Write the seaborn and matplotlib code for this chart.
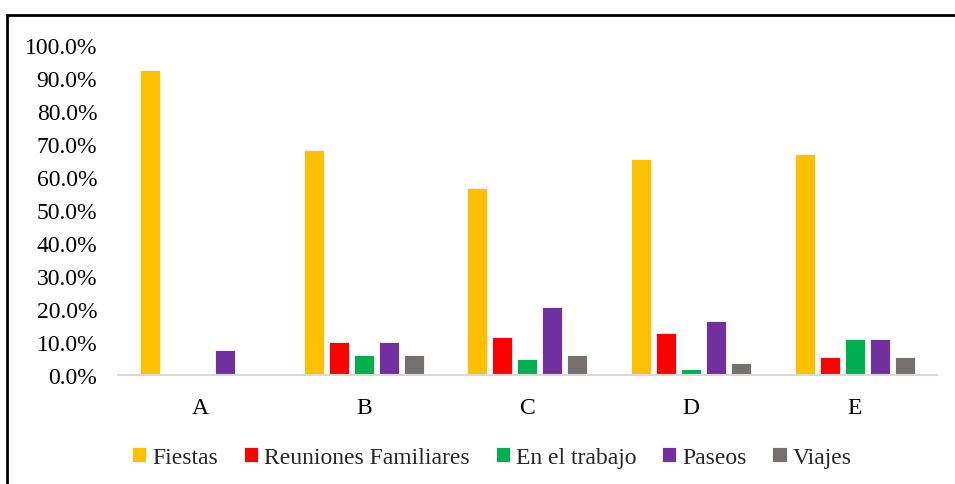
import pandas as pd
import seaborn as sns
import matplotlib.pyplot as plt
from matplotlib.patches import Rectangle
from matplotlib.ticker import PercentFormatter

# DATA
categorias = ['A', 'B', 'C', 'D', 'E']
series = ['Fiestas', 'Reuniones Familiares', 'En el trabajo', 'Paseos', 'Viajes']
fiestas = [0.923, 0.680, 0.567, 0.654, 0.668]
reuniones = [0.0, 0.099, 0.114, 0.127, 0.055]
trabajo = [0.0, 0.061, 0.050, 0.018, 0.110]
paseos = [0.076, 0.099, 0.205, 0.163, 0.110]
viajes = [0.0, 0.061, 0.062, 0.035, 0.055]
colores = ['#FFC000', '#FF0000', '#00B050', '#7030A0', '#767171']

valores = [fiestas, reuniones, trabajo, paseos, viajes]
rows = []
for s, vals in zip(series, valores):
    for c, v in zip(categorias, vals):
        rows.append({'cat': c, 'serie': s, 'valor': v})
df = pd.DataFrame(rows)

sns.set_style('white')
plt.rcParams['font.family'] = ['Liberation Serif', 'DejaVu Serif']

fig = plt.figure(figsize=(9.55, 4.85), dpi=100)
ax = fig.add_axes([0.1236, 0.2247, 0.981 - 0.1236, 0.9058 - 0.2247])

sns.barplot(data=df, x='cat', y='valor', hue='serie', palette=colores,
            hue_order=series, order=categorias, width=0.763, gap=0.2,
            saturation=1, edgecolor='white', linewidth=0.6, ax=ax)

ax.set_ylim(0, 1.0)
ax.set_yticks([i / 10 for i in range(11)])
ax.yaxis.set_major_formatter(PercentFormatter(xmax=1, decimals=1))
ax.set_xlabel('')
ax.set_ylabel('')
ax.tick_params(axis='both', length=0, labelsize=17, colors='black')
ax.tick_params(axis='x', pad=16)
ax.tick_params(axis='y', pad=15)
for sp in ['top', 'right', 'left']:
    ax.spines[sp].set_visible(False)
ax.spines['bottom'].set_color('#D9D9D9')
ax.spines['bottom'].set_linewidth(1.5)
ax.set_xlim(-0.5, 4.5)

handles, labels = ax.get_legend_handles_labels()
ax.legend(handles, labels, ncol=5, frameon=False, loc='center',
          bbox_to_anchor=(0.515, 0.055), bbox_transform=fig.transFigure,
          fontsize=17, handlelength=0.6, handleheight=0.6,
          columnspacing=1.1, handletextpad=0.25)

# marco exterior
fig.patches.append(Rectangle((7 / 955, -0.05), 1.1, (485 - 16) / 485 + 0.05,
                             transform=fig.transFigure, fill=False,
                             edgecolor='black', linewidth=2, clip_on=False))

fig.savefig('out.png', dpi=100)
